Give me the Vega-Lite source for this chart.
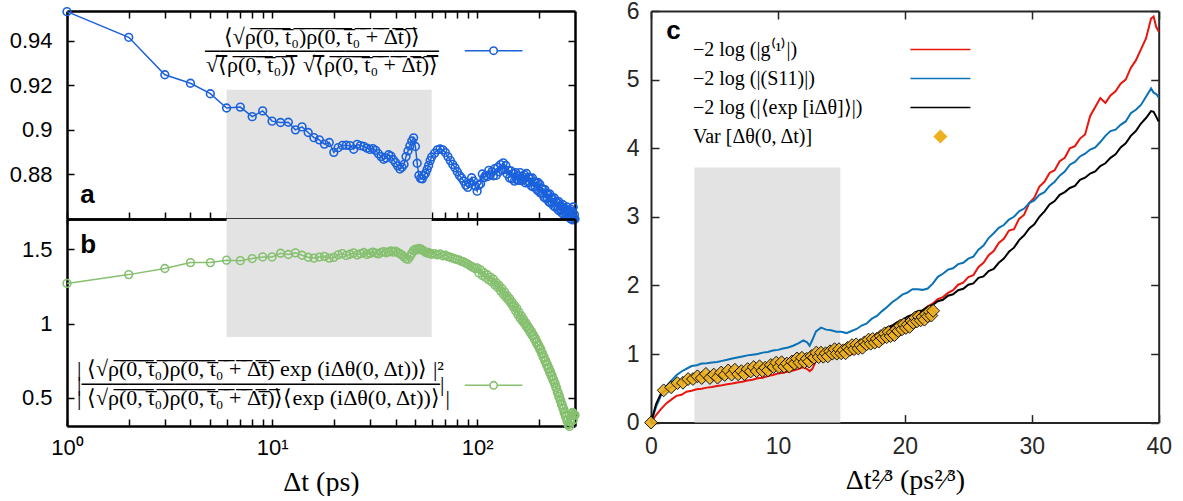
{
"$schema": "https://vega.github.io/schema/vega-lite/v6.json",
"padding": {"left": 9, "top": 0, "right": 5, "bottom": 0},
"background": "white",
"spacing": 43,
"config": {
  "view": {"stroke": null},
  "axis": {"grid": false, "zindex": 1, "labelFont": "Liberation Sans", "labelFontSize": 22, "labelColor": "#000", "domainColor": "#000", "domainWidth": 2.5, "tickColor": "#000", "tickWidth": 1.5, "tickSize": -7, "labelFlush": false, "labelOverlap": false, "titleFont": "Liberation Serif", "titleFontWeight": "normal", "titleFontSize": 28, "titleColor": "#000"}
},
"datasets": {
  "a": [{"t":1,"v":0.953},{"t":2,"v":0.9415},{"t":3,"v":0.9247},{"t":4,"v":0.9209},{"t":5,"v":0.9162},{"t":6,"v":0.9098},{"t":7,"v":0.9102},{"t":8,"v":0.9059},{"t":9,"v":0.9085},{"t":10,"v":0.9039},{"t":11,"v":0.9033},{"t":12,"v":0.9034},{"t":13,"v":0.9},{"t":14,"v":0.9013},{"t":15,"v":0.8988},{"t":16,"v":0.8965},{"t":17,"v":0.8955},{"t":18,"v":0.8936},{"t":19,"v":0.8943},{"t":20,"v":0.8899},{"t":21,"v":0.892},{"t":22,"v":0.893},{"t":23,"v":0.8931},{"t":24,"v":0.8929},{"t":25,"v":0.8913},{"t":26,"v":0.8935},{"t":27,"v":0.8929},{"t":28,"v":0.8926},{"t":29,"v":0.8918},{"t":30,"v":0.8912},{"t":31,"v":0.8916},{"t":32,"v":0.8908},{"t":33,"v":0.8893},{"t":34,"v":0.888},{"t":35,"v":0.8868},{"t":36,"v":0.8874},{"t":37,"v":0.8888},{"t":38,"v":0.8882},{"t":39,"v":0.8866},{"t":40,"v":0.8853},{"t":41,"v":0.8838},{"t":42,"v":0.8824},{"t":43,"v":0.8832},{"t":44,"v":0.8845},{"t":45,"v":0.888},{"t":46,"v":0.8905},{"t":47,"v":0.8928},{"t":48,"v":0.895},{"t":49,"v":0.8964},{"t":50,"v":0.8925},{"t":51,"v":0.885},{"t":52,"v":0.8795},{"t":53,"v":0.8782},{"t":54,"v":0.878},{"t":55,"v":0.8795},{"t":56,"v":0.8805},{"t":57,"v":0.8822},{"t":58,"v":0.884},{"t":59,"v":0.8862},{"t":60,"v":0.8878},{"t":62,"v":0.8895},{"t":64,"v":0.891},{"t":66,"v":0.8914},{"t":68,"v":0.891},{"t":70,"v":0.8898},{"t":72,"v":0.888},{"t":74,"v":0.8862},{"t":76,"v":0.8845},{"t":78,"v":0.883},{"t":80,"v":0.8812},{"t":82,"v":0.8795},{"t":84,"v":0.8784},{"t":86,"v":0.877},{"t":88,"v":0.8752},{"t":90,"v":0.8742},{"t":92,"v":0.876},{"t":94,"v":0.8785},{"t":96,"v":0.877},{"t":98,"v":0.8748},{"t":100,"v":0.8725},{"t":102,"v":0.8752},{"t":104,"v":0.8758},{"t":106,"v":0.8802},{"t":108,"v":0.8785},{"t":110,"v":0.8795},{"t":112,"v":0.879},{"t":114,"v":0.8818},{"t":116,"v":0.8798},{"t":118,"v":0.8812},{"t":120,"v":0.8794},{"t":122,"v":0.8826},{"t":124,"v":0.8796},{"t":126,"v":0.8832},{"t":128,"v":0.8812},{"t":130,"v":0.8844},{"t":132,"v":0.8822},{"t":134,"v":0.8852},{"t":136,"v":0.8822},{"t":138,"v":0.884},{"t":140,"v":0.8802},{"t":142,"v":0.8818},{"t":144,"v":0.8784},{"t":146,"v":0.8816},{"t":148,"v":0.878},{"t":150,"v":0.8804},{"t":152,"v":0.877},{"t":154,"v":0.8808},{"t":156,"v":0.8776},{"t":158,"v":0.8794},{"t":160,"v":0.8774},{"t":162,"v":0.8808},{"t":164,"v":0.8772},{"t":166,"v":0.8792},{"t":168,"v":0.8776},{"t":170,"v":0.8798},{"t":172,"v":0.8762},{"t":174,"v":0.8804},{"t":176,"v":0.8766},{"t":178,"v":0.8786},{"t":180,"v":0.8766},{"t":182,"v":0.8782},{"t":184,"v":0.8748},{"t":186,"v":0.8784},{"t":188,"v":0.8744},{"t":190,"v":0.8766},{"t":192,"v":0.8746},{"t":194,"v":0.8762},{"t":196,"v":0.873},{"t":198,"v":0.8764},{"t":200,"v":0.8724},{"t":202,"v":0.8756},{"t":204,"v":0.8716},{"t":206,"v":0.8738},{"t":208,"v":0.8718},{"t":210,"v":0.8734},{"t":212,"v":0.8698},{"t":214,"v":0.8732},{"t":216,"v":0.8692},{"t":218,"v":0.8714},{"t":220,"v":0.8694},{"t":222,"v":0.871},{"t":224,"v":0.8676},{"t":226,"v":0.8712},{"t":228,"v":0.8672},{"t":230,"v":0.8694},{"t":232,"v":0.8674},{"t":234,"v":0.869},{"t":236,"v":0.8658},{"t":238,"v":0.8694},{"t":240,"v":0.8654},{"t":242,"v":0.8678},{"t":244,"v":0.8658},{"t":246,"v":0.8674},{"t":248,"v":0.8642},{"t":250,"v":0.8678},{"t":252,"v":0.8636},{"t":254,"v":0.866},{"t":256,"v":0.8642},{"t":258,"v":0.8656},{"t":260,"v":0.8626},{"t":262,"v":0.8664},{"t":264,"v":0.8622},{"t":266,"v":0.8646},{"t":268,"v":0.863},{"t":270,"v":0.8642},{"t":272,"v":0.8616},{"t":274,"v":0.8654},{"t":276,"v":0.8612},{"t":278,"v":0.8634},{"t":280,"v":0.8622},{"t":282,"v":0.8632},{"t":284,"v":0.8602},{"t":286,"v":0.8644},{"t":288,"v":0.86},{"t":290,"v":0.8634},{"t":292,"v":0.8596},{"t":294,"v":0.8654},{"t":296,"v":0.8603},{"t":298,"v":0.862},{"t":300,"v":0.86}],
  "b": [{"t":1,"v":1.27},{"t":2,"v":1.329},{"t":3,"v":1.37},{"t":4,"v":1.41},{"t":5,"v":1.41},{"t":6,"v":1.426},{"t":7,"v":1.423},{"t":8,"v":1.437},{"t":9,"v":1.448},{"t":10,"v":1.448},{"t":11,"v":1.473},{"t":12,"v":1.464},{"t":13,"v":1.475},{"t":14,"v":1.459},{"t":15,"v":1.446},{"t":16,"v":1.44},{"t":17,"v":1.447},{"t":18,"v":1.452},{"t":19,"v":1.44},{"t":20,"v":1.445},{"t":21,"v":1.462},{"t":22,"v":1.47},{"t":23,"v":1.458},{"t":24,"v":1.466},{"t":25,"v":1.475},{"t":26,"v":1.462},{"t":27,"v":1.47},{"t":28,"v":1.478},{"t":29,"v":1.465},{"t":30,"v":1.472},{"t":31,"v":1.48},{"t":32,"v":1.474},{"t":33,"v":1.468},{"t":34,"v":1.478},{"t":35,"v":1.484},{"t":36,"v":1.476},{"t":37,"v":1.482},{"t":38,"v":1.488},{"t":39,"v":1.48},{"t":40,"v":1.486},{"t":41,"v":1.478},{"t":42,"v":1.47},{"t":43,"v":1.46},{"t":44,"v":1.448},{"t":45,"v":1.436},{"t":46,"v":1.432},{"t":47,"v":1.45},{"t":48,"v":1.472},{"t":49,"v":1.492},{"t":50,"v":1.5},{"t":51,"v":1.495},{"t":52,"v":1.505},{"t":53,"v":1.502},{"t":54,"v":1.495},{"t":55,"v":1.488},{"t":56,"v":1.48},{"t":57,"v":1.474},{"t":58,"v":1.478},{"t":59,"v":1.47},{"t":60,"v":1.466},{"t":62,"v":1.47},{"t":64,"v":1.462},{"t":66,"v":1.468},{"t":68,"v":1.456},{"t":70,"v":1.46},{"t":72,"v":1.45},{"t":74,"v":1.446},{"t":76,"v":1.44},{"t":78,"v":1.435},{"t":80,"v":1.43},{"t":82,"v":1.426},{"t":84,"v":1.418},{"t":86,"v":1.414},{"t":88,"v":1.406},{"t":90,"v":1.4},{"t":92,"v":1.39},{"t":94,"v":1.384},{"t":96,"v":1.376},{"t":98,"v":1.368},{"t":100,"v":1.374},{"t":102,"v":1.34},{"t":104,"v":1.36},{"t":106,"v":1.324},{"t":108,"v":1.342},{"t":110,"v":1.31},{"t":112,"v":1.328},{"t":114,"v":1.294},{"t":116,"v":1.312},{"t":118,"v":1.28},{"t":120,"v":1.298},{"t":122,"v":1.26},{"t":124,"v":1.274},{"t":126,"v":1.242},{"t":128,"v":1.256},{"t":130,"v":1.22},{"t":132,"v":1.236},{"t":134,"v":1.198},{"t":136,"v":1.212},{"t":138,"v":1.178},{"t":140,"v":1.188},{"t":142,"v":1.158},{"t":144,"v":1.168},{"t":146,"v":1.136},{"t":148,"v":1.144},{"t":150,"v":1.112},{"t":152,"v":1.122},{"t":154,"v":1.086},{"t":156,"v":1.102},{"t":158,"v":1.06},{"t":160,"v":1.076},{"t":162,"v":1.036},{"t":164,"v":1.052},{"t":166,"v":1.018},{"t":168,"v":1.03},{"t":170,"v":1},{"t":172,"v":1.008},{"t":174,"v":0.978},{"t":176,"v":0.987},{"t":178,"v":0.96},{"t":180,"v":0.967},{"t":182,"v":0.936},{"t":184,"v":0.947},{"t":186,"v":0.918},{"t":188,"v":0.924},{"t":190,"v":0.896},{"t":192,"v":0.902},{"t":194,"v":0.872},{"t":196,"v":0.878},{"t":198,"v":0.85},{"t":200,"v":0.854},{"t":202,"v":0.826},{"t":204,"v":0.83},{"t":206,"v":0.8},{"t":208,"v":0.802},{"t":210,"v":0.774},{"t":212,"v":0.774},{"t":214,"v":0.746},{"t":216,"v":0.75},{"t":218,"v":0.722},{"t":220,"v":0.724},{"t":222,"v":0.696},{"t":224,"v":0.7},{"t":226,"v":0.67},{"t":228,"v":0.676},{"t":230,"v":0.646},{"t":232,"v":0.65},{"t":234,"v":0.622},{"t":236,"v":0.624},{"t":238,"v":0.598},{"t":240,"v":0.597},{"t":242,"v":0.568},{"t":244,"v":0.568},{"t":246,"v":0.538},{"t":248,"v":0.538},{"t":250,"v":0.51},{"t":252,"v":0.51},{"t":254,"v":0.482},{"t":256,"v":0.482},{"t":258,"v":0.454},{"t":260,"v":0.454},{"t":262,"v":0.428},{"t":264,"v":0.428},{"t":266,"v":0.398},{"t":268,"v":0.402},{"t":270,"v":0.374},{"t":272,"v":0.374},{"t":274,"v":0.346},{"t":276,"v":0.348},{"t":278,"v":0.318},{"t":280,"v":0.324},{"t":282,"v":0.308},{"t":284,"v":0.342},{"t":286,"v":0.338},{"t":288,"v":0.384},{"t":290,"v":0.398},{"t":292,"v":0.402},{"t":294,"v":0.35},{"t":296,"v":0.392},{"t":298,"v":0.383},{"t":300,"v":0.384}],
  "c": [{"x":0,"g":0,"s":0,"e":0},{"x":0.4,"g":0.11,"s":0.23,"e":0.27},{"x":0.8,"g":0.2,"s":0.4,"e":0.43},{"x":1.2,"g":0.28,"s":0.53,"e":0.47},{"x":1.6,"g":0.335,"s":0.61,"e":0.525},{"x":2,"g":0.39,"s":0.69,"e":0.555},{"x":2.4,"g":0.405,"s":0.745,"e":0.605},{"x":2.8,"g":0.45,"s":0.785,"e":0.625},{"x":3.2,"g":0.465,"s":0.825,"e":0.655},{"x":3.6,"g":0.485,"s":0.835,"e":0.66},{"x":4,"g":0.495,"s":0.86,"e":0.685},{"x":4.4,"g":0.51,"s":0.865,"e":0.685},{"x":4.8,"g":0.52,"s":0.875,"e":0.705},{"x":5.2,"g":0.535,"s":0.885,"e":0.705},{"x":5.6,"g":0.545,"s":0.9,"e":0.725},{"x":6,"g":0.56,"s":0.915,"e":0.725},{"x":6.4,"g":0.57,"s":0.935,"e":0.745},{"x":6.8,"g":0.585,"s":0.95,"e":0.745},{"x":7.2,"g":0.595,"s":0.965,"e":0.765},{"x":7.6,"g":0.615,"s":0.98,"e":0.765},{"x":8,"g":0.625,"s":0.99,"e":0.785},{"x":8.4,"g":0.645,"s":1,"e":0.785},{"x":8.8,"g":0.655,"s":1.02,"e":0.805},{"x":9.2,"g":0.68,"s":1.03,"e":0.815},{"x":9.6,"g":0.695,"s":1.05,"e":0.835},{"x":10,"g":0.715,"s":1.06,"e":0.845},{"x":10.4,"g":0.725,"s":1.08,"e":0.865},{"x":10.8,"g":0.745,"s":1.095,"e":0.87},{"x":11.2,"g":0.76,"s":1.12,"e":0.895},{"x":11.6,"g":0.78,"s":1.155,"e":0.905},{"x":12,"g":0.81,"s":1.2,"e":0.935},{"x":12.3,"g":0.78,"s":1.17,"e":0.945},{"x":12.5,"g":0.75,"s":1.12,"e":0.975},{"x":12.7,"g":0.78,"s":1.2,"e":0.985},{"x":13,"g":0.9,"s":1.33,"e":1.015},{"x":13.4,"g":0.945,"s":1.385,"e":1.025},{"x":13.8,"g":0.965,"s":1.355,"e":1.045},{"x":14.2,"g":0.945,"s":1.345,"e":1.045},{"x":14.6,"g":0.97,"s":1.325,"e":1.065},{"x":15,"g":0.97,"s":1.325,"e":1.065},{"x":15.4,"g":0.995,"s":1.305,"e":1.085},{"x":15.8,"g":0.995,"s":1.335,"e":1.085},{"x":16.2,"g":1.025,"s":1.365,"e":1.115},{"x":16.6,"g":1.045,"s":1.415,"e":1.135},{"x":17,"g":1.105,"s":1.445,"e":1.185},{"x":17.4,"g":1.155,"s":1.515,"e":1.235},{"x":17.8,"g":1.215,"s":1.555,"e":1.295},{"x":18.2,"g":1.265,"s":1.625,"e":1.335},{"x":18.6,"g":1.335,"s":1.685,"e":1.385},{"x":19,"g":1.385,"s":1.755,"e":1.415},{"x":19.4,"g":1.425,"s":1.805,"e":1.465},{"x":19.8,"g":1.445,"s":1.865,"e":1.495},{"x":20.2,"g":1.485,"s":1.895,"e":1.545},{"x":20.6,"g":1.525,"s":1.945,"e":1.575},{"x":21,"g":1.595,"s":1.945,"e":1.625},{"x":21.4,"g":1.635,"s":1.935,"e":1.635},{"x":21.8,"g":1.695,"s":1.955,"e":1.685},{"x":22.2,"g":1.735,"s":2.025,"e":1.715},{"x":22.6,"g":1.8,"s":2.125,"e":1.77},{"x":23,"g":1.83,"s":2.17,"e":1.79},{"x":23.4,"g":1.89,"s":2.23,"e":1.85},{"x":23.8,"g":1.93,"s":2.25,"e":1.87},{"x":24.2,"g":2.01,"s":2.31,"e":1.93},{"x":24.6,"g":2.04,"s":2.33,"e":1.95},{"x":25,"g":2.12,"s":2.39,"e":2.01},{"x":25.4,"g":2.15,"s":2.42,"e":2.03},{"x":25.8,"g":2.27,"s":2.52,"e":2.11},{"x":26.2,"g":2.33,"s":2.58,"e":2.13},{"x":26.6,"g":2.44,"s":2.69,"e":2.21},{"x":27,"g":2.5,"s":2.76,"e":2.24},{"x":27.4,"g":2.62,"s":2.84,"e":2.33},{"x":27.8,"g":2.68,"s":2.88,"e":2.39},{"x":28.2,"g":2.8,"s":2.96,"e":2.49},{"x":28.6,"g":2.82,"s":3,"e":2.55},{"x":29,"g":2.97,"s":3.08,"e":2.66},{"x":29.4,"g":3.03,"s":3.12,"e":2.73},{"x":29.8,"g":3.2,"s":3.2,"e":2.83},{"x":30.2,"g":3.28,"s":3.24,"e":2.89},{"x":30.6,"g":3.44,"s":3.32,"e":3},{"x":31,"g":3.51,"s":3.36,"e":3.08},{"x":31.4,"g":3.64,"s":3.45,"e":3.18},{"x":31.8,"g":3.68,"s":3.51,"e":3.23},{"x":32.2,"g":3.81,"s":3.6,"e":3.32},{"x":32.6,"g":3.86,"s":3.66,"e":3.36},{"x":33,"g":4,"s":3.76,"e":3.42},{"x":33.4,"g":4.03,"s":3.8,"e":3.45},{"x":33.8,"g":4.14,"s":3.88,"e":3.54},{"x":34.2,"g":4.2,"s":3.92,"e":3.57},{"x":34.6,"g":4.47,"s":3.98,"e":3.63},{"x":35,"g":4.6,"s":4.01,"e":3.66},{"x":35.4,"g":4.73,"s":4.09,"e":3.74},{"x":35.8,"g":4.66,"s":4.18,"e":3.78},{"x":36.2,"g":4.77,"s":4.25,"e":3.86},{"x":36.6,"g":4.83,"s":4.27,"e":3.91},{"x":37,"g":4.94,"s":4.34,"e":4.01},{"x":37.4,"g":5,"s":4.39,"e":4.07},{"x":37.8,"g":5.17,"s":4.51,"e":4.18},{"x":38.2,"g":5.28,"s":4.56,"e":4.25},{"x":38.6,"g":5.44,"s":4.63,"e":4.36},{"x":39,"g":5.6,"s":4.75,"e":4.44},{"x":39.4,"g":5.89,"s":4.87,"e":4.54},{"x":39.6,"g":5.92,"s":4.81,"e":4.53},{"x":39.8,"g":5.77,"s":4.79,"e":4.46},{"x":40,"g":5.7,"s":4.74,"e":4.39}],
  "d": [{"x":0,"v":0},{"x":1,"v":0.47},{"x":1.587,"v":0.515},{"x":2.08,"v":0.575},{"x":2.52,"v":0.58},{"x":2.924,"v":0.635},{"x":3.302,"v":0.635},{"x":3.659,"v":0.675},{"x":4,"v":0.65},{"x":4.327,"v":0.71},{"x":4.642,"v":0.65},{"x":4.946,"v":0.7},{"x":5.241,"v":0.655},{"x":5.529,"v":0.73},{"x":5.809,"v":0.695},{"x":6.082,"v":0.76},{"x":6.35,"v":0.7},{"x":6.611,"v":0.77},{"x":6.868,"v":0.705},{"x":7.12,"v":0.75},{"x":7.368,"v":0.705},{"x":7.612,"v":0.78},{"x":7.851,"v":0.745},{"x":8.088,"v":0.81},{"x":8.32,"v":0.75},{"x":8.55,"v":0.82},{"x":8.776,"v":0.755},{"x":9,"v":0.8},{"x":9.221,"v":0.76},{"x":9.439,"v":0.84},{"x":9.655,"v":0.81},{"x":9.868,"v":0.875},{"x":10.079,"v":0.81},{"x":10.288,"v":0.88},{"x":10.495,"v":0.815},{"x":10.7,"v":0.86},{"x":10.903,"v":0.815},{"x":11.104,"v":0.89},{"x":11.303,"v":0.86},{"x":11.5,"v":0.935},{"x":11.696,"v":0.875},{"x":11.89,"v":0.945},{"x":12.082,"v":0.88},{"x":12.273,"v":0.93},{"x":12.462,"v":0.89},{"x":12.651,"v":0.97},{"x":12.837,"v":0.945},{"x":13.022,"v":1.02},{"x":13.208,"v":0.955},{"x":13.39,"v":1.02},{"x":13.572,"v":0.96},{"x":13.752,"v":1.01},{"x":13.932,"v":0.965},{"x":14.11,"v":1.04},{"x":14.287,"v":1.005},{"x":14.463,"v":1.07},{"x":14.638,"v":1.005},{"x":14.812,"v":1.07},{"x":14.985,"v":1.01},{"x":15.157,"v":1.055},{"x":15.326,"v":1.01},{"x":15.497,"v":1.09},{"x":15.667,"v":1.06},{"x":15.834,"v":1.13},{"x":16,"v":1.07},{"x":16.166,"v":1.14},{"x":16.331,"v":1.08},{"x":16.495,"v":1.13},{"x":16.658,"v":1.09},{"x":16.82,"v":1.17},{"x":16.985,"v":1.14},{"x":17.144,"v":1.21},{"x":17.307,"v":1.15},{"x":17.466,"v":1.22},{"x":17.626,"v":1.165},{"x":17.784,"v":1.22},{"x":17.941,"v":1.18},{"x":18.098,"v":1.26},{"x":18.254,"v":1.23},{"x":18.409,"v":1.3},{"x":18.566,"v":1.245},{"x":18.72,"v":1.32},{"x":18.872,"v":1.26},{"x":19.025,"v":1.31},{"x":19.177,"v":1.275},{"x":19.328,"v":1.36},{"x":19.479,"v":1.335},{"x":19.629,"v":1.41},{"x":19.778,"v":1.36},{"x":19.926,"v":1.435},{"x":20.083,"v":1.38},{"x":20.225,"v":1.43},{"x":20.371,"v":1.395},{"x":20.517,"v":1.48},{"x":20.663,"v":1.455},{"x":20.808,"v":1.53},{"x":20.952,"v":1.475},{"x":21.096,"v":1.55},{"x":21.24,"v":1.49},{"x":21.383,"v":1.54},{"x":21.544,"v":1.5},{"x":21.666,"v":1.58},{"x":21.808,"v":1.55},{"x":21.948,"v":1.62},{"x":22.087,"v":1.56},{"x":22.226,"v":1.63}]
},
"resolve": {"scale": {"color": "independent"}, "legend": {"color": "independent"}},
"hconcat": [
  {
    "vconcat": [
      {
        "width": 508, "height": 208,
        "resolve": {"axis": {"x": "independent", "y": "independent"}},
        "layer": [
          {
            "data": {"values": [{"x0": 6, "x1": 60, "y0": 0.86, "y1": 0.918}]},
            "mark": {"type": "rect", "color": "#e3e3e3"},
            "encoding": {
              "x": {"field": "x0", "type": "quantitative", "scale": {"type": "log", "domain": [1, 300], "nice": false}, "axis": {"orient": "top", "labels": false, "title": null, "values": [1,2,3,4,5,6,7,8,9,10,20,30,40,50,60,70,80,90,100,200]}},
              "x2": {"field": "x1"},
              "y": {"field": "y0", "type": "quantitative", "scale": {"domain": [0.86, 0.9533], "nice": false, "zero": false}, "axis": {"orient": "right", "labels": false, "title": null, "values": [0.88, 0.9, 0.92, 0.94]}},
              "y2": {"field": "y1"}
            }
          },
          {
            "data": {"name": "a"},
            "mark": {"type": "line", "strokeWidth": 1.5, "clip": false, "point": {"filled": false, "size": 60, "strokeWidth": 1.6}},
            "encoding": {
              "x": {"field": "t", "type": "quantitative", "axis": {"orient": "bottom", "labels": false, "title": null, "values": [1,2,3,4,5,6,7,8,9,10,20,30,40,50,60,70,80,90,100,200]}},
              "y": {"field": "v", "type": "quantitative", "axis": {"orient": "left", "title": null, "values": [0.88, 0.9, 0.92, 0.94], "format": "~g", "labelPadding": 22}},
              "color": {"datum": "a", "scale": {"range": ["#1b62dc"]}, "legend": {
                "orient": "none", "legendX": 415.6, "legendY": 28.7, "title": null, "padding": 0,
                "labelFont": "Liberation Serif", "labelFontSize": 22, "labelLimit": 0, "labelColor": "#000", "labelOffset": -182.6, "symbolOffset": 0,
                "labelExpr": "['⟨√ρ\u0305(\u03050\u0305,\u0305 \u0305t\u0305₀\u0305)\u0305ρ\u0305(\u03050\u0305,\u0305 \u0305t\u0305₀\u0305 \u0305+\u0305 \u0305Δ\u0305t\u0305)\u0305⟩', '───────────────', '√⟨\u0305ρ\u0305(\u03050\u0305,\u0305 \u0305t\u0305₀\u0305)\u0305⟩\u0305 √⟨\u0305ρ\u0305(\u03050\u0305,\u0305 \u0305t\u0305₀\u0305 \u0305+\u0305 \u0305Δ\u0305t\u0305)\u0305⟩\u0305']",
                "encode": {
                  "symbols": {"update": {"shape": {"value": "M-5,0H-0.64M0.64,0H5M0.64,0A0.64,0.64,0,1,0,-0.64,0A0.64,0.64,0,1,0,0.64,0"}, "size": {"value": 133}, "stroke": {"value": "#1b62dc"}, "fill": {"value": "transparent"}, "strokeWidth": {"value": 1.6}, "opacity": {"value": 1}}},
                  "labels": {"update": {"lineHeight": {"value": 14}, "dy": {"value": -14}, "align": {"value": "center"}}}
                }
              }}
            }
          },
          {
            "data": {"values": [{}]},
            "mark": {"type": "text", "text": "a", "font": "Liberation Sans", "fontWeight": "bold", "fontSize": 26, "align": "left", "baseline": "alphabetic"},
            "encoding": {
              "x": {"datum": 1.161, "type": "quantitative", "axis": null},
              "y": {"datum": 0.8674, "type": "quantitative", "axis": null}
            }
          }
        ]
      },
      {
        "width": 508, "height": 207,
        "resolve": {"axis": {"x": "independent", "y": "independent"}},
        "layer": [
          {
            "data": {"values": [{"x0": 6, "x1": 60, "y0": 0.91, "y1": 1.703}]},
            "mark": {"type": "rect", "color": "#e3e3e3"},
            "encoding": {
              "x": {"field": "x0", "type": "quantitative", "scale": {"type": "log", "domain": [1, 300], "nice": false}, "axis": {"orient": "top", "labels": false, "title": null, "values": [1, 10, 100], "tickSize": -6}},
              "x2": {"field": "x1"},
              "y": {"field": "y0", "type": "quantitative", "scale": {"domain": [0.311, 1.703], "nice": false, "zero": false}, "axis": {"orient": "right", "labels": false, "title": null, "values": [0.5, 1, 1.5]}},
              "y2": {"field": "y1"}
            }
          },
          {
            "data": {"name": "b"},
            "mark": {"type": "line", "strokeWidth": 1.5, "clip": false, "point": {"filled": false, "size": 60, "strokeWidth": 1.6}},
            "encoding": {
              "x": {"field": "t", "type": "quantitative", "axis": {"orient": "bottom", "title": "Δt (ps)", "titlePadding": 10, "values": [1,2,3,4,5,6,7,8,9,10,20,30,40,50,60,70,80,90,100,200], "labelExpr": "datum.value === 1 ? '10⁰' : datum.value === 10 ? '10¹' : datum.value === 100 ? '10²' : ''", "labelPadding": 18}},
              "y": {"field": "v", "type": "quantitative", "axis": {"orient": "left", "title": null, "values": [0.5, 1, 1.5], "format": "~g", "labelPadding": 22}},
              "color": {"datum": "b", "scale": {"range": ["#86c070"]}, "legend": {
                "orient": "none", "legendX": 415.6, "legendY": 155.3, "title": null, "padding": 0,
                "labelFont": "Liberation Serif", "labelFontSize": 22, "labelLimit": 0, "labelColor": "#000", "labelOffset": -427.6, "symbolOffset": 0,
                "labelExpr": "['| ⟨√ρ\u0305(\u03050\u0305,\u0305 \u0305t\u0305₀\u0305)\u0305ρ\u0305(\u03050\u0305,\u0305 \u0305t\u0305₀\u0305 \u0305+\u0305 \u0305Δ\u0305t\u0305)\u0305 exp (iΔθ(0, Δt))⟩  |²', '|───────────────────────|', '| ⟨√ρ\u0305(\u03050\u0305,\u0305 \u0305t\u0305₀\u0305)\u0305ρ\u0305(\u03050\u0305,\u0305 \u0305t\u0305₀\u0305 \u0305+\u0305 \u0305Δ\u0305t\u0305)\u0305⟩⟨exp (iΔθ(0, Δt))⟩ |']",
                "encode": {
                  "symbols": {"update": {"shape": {"value": "M-5,0H-0.64M0.64,0H5M0.64,0A0.64,0.64,0,1,0,-0.64,0A0.64,0.64,0,1,0,0.64,0"}, "size": {"value": 133}, "stroke": {"value": "#86c070"}, "fill": {"value": "transparent"}, "strokeWidth": {"value": 1.6}, "opacity": {"value": 1}}},
                  "labels": {"update": {"lineHeight": {"value": 14.5}, "dy": {"value": -16}, "align": {"value": "left"}}}
                }
              }}
            }
          },
          {
            "data": {"values": [{}]},
            "mark": {"type": "text", "text": "b", "font": "Liberation Sans", "fontWeight": "bold", "fontSize": 26, "align": "left", "baseline": "alphabetic"},
            "encoding": {
              "x": {"datum": 1.161, "type": "quantitative", "axis": null},
              "y": {"datum": 1.473, "type": "quantitative", "axis": null}
            }
          }
        ]
      }
    ],
    "spacing": 0,
    "bounds": "flush",
    "resolve": {"scale": {"color": "independent"}, "legend": {"color": "independent"}}
  },
  {
    "width": 507.7, "height": 411.6,
    "resolve": {"axis": {"x": "independent", "y": "independent"}},
    "layer": [
      {
        "data": {"values": [{"x0": 3.42, "x1": 14.92, "y0": 0, "y1": 3.72}]},
        "mark": {"type": "rect", "color": "#e3e3e3"},
        "encoding": {
          "x": {"field": "x0", "type": "quantitative", "scale": {"domain": [0, 40], "nice": false}, "axis": {"orient": "top", "labels": false, "title": null, "values": [0, 10, 20, 30, 40], "domainColor": "#262626", "tickColor": "#262626", "domainWidth": 2, "tickSize": -8}},
          "x2": {"field": "x1"},
          "y": {"field": "y0", "type": "quantitative", "scale": {"domain": [0, 6], "nice": false}, "axis": {"orient": "right", "labels": false, "title": null, "values": [0, 1, 2, 3, 4, 5, 6], "domainColor": "#262626", "tickColor": "#262626", "domainWidth": 2, "tickSize": -8}},
          "y2": {"field": "y1"}
        }
      },
      {
        "data": {"name": "c"},
        "transform": [{"fold": ["g", "s", "e"], "as": ["series", "v"]}],
        "mark": {"type": "line", "strokeWidth": 2},
        "encoding": {
          "x": {"field": "x", "type": "quantitative", "axis": {"orient": "bottom", "title": "Δt²⁄³ (ps²⁄³)", "titlePadding": 8, "values": [0, 10, 20, 30, 40], "domainColor": "#262626", "tickColor": "#262626", "labelColor": "#262626", "domainWidth": 2, "tickSize": -8, "labelFontSize": 23, "labelPadding": 21}},
          "y": {"field": "v", "type": "quantitative", "axis": {"orient": "left", "title": null, "values": [0, 1, 2, 3, 4, 5, 6], "domainColor": "#262626", "tickColor": "#262626", "labelColor": "#262626", "domainWidth": 2, "tickSize": -8, "labelFontSize": 23, "labelPadding": 20}},
          "color": {"field": "series", "type": "nominal", "scale": {"domain": ["g", "s", "e", "var"], "range": ["#e8160c", "#0a72b5", "#000000", "#edb120"]}, "legend": {
            "orient": "none", "legendX": 279.4, "legendY": 28.5, "title": null, "padding": 0, "rowPadding": 9,
            "labelFont": "Liberation Serif", "labelFontSize": 20, "labelLimit": 0, "labelColor": "#000", "labelOffset": -257.4, "symbolOffset": 0,
            "labelExpr": "datum.value === 'g' ? '−2 log (|g⁽¹⁾|)' : datum.value === 's' ? '−2 log (|(S11)|)' : datum.value === 'e' ? '−2 log (|⟨exp [iΔθ]⟩|)' : 'Var [Δθ(0, Δt)]'",
            "encode": {
              "symbols": {"update": {
                "shape": {"signal": "datum.value === 'var' ? 'diamond' : 'M-5,0H5'"},
                "size": {"value": 144},
                "fill": {"signal": "datum.value === 'var' ? '#edb120' : 'transparent'"},
                "stroke": {"signal": "datum.value === 'g' ? '#e8160c' : datum.value === 's' ? '#0a72b5' : '#000000'"},
                "strokeWidth": {"value": 1.5},
                "opacity": {"value": 1}
              }}
            }
          }}
        }
      },
      {
        "data": {"name": "d"},
        "mark": {"type": "point", "shape": "diamond", "filled": true, "size": 165, "stroke": "#000000", "strokeWidth": 1, "opacity": 0.9},
        "encoding": {
          "x": {"field": "x", "type": "quantitative", "axis": null},
          "y": {"field": "v", "type": "quantitative", "axis": null},
          "color": {"datum": "var", "legend": null}
        }
      },
      {
        "data": {"values": [{}]},
        "mark": {"type": "text", "text": "c", "font": "Liberation Sans", "fontWeight": "bold", "fontSize": 26, "align": "left", "baseline": "alphabetic"},
        "encoding": {
          "x": {"datum": 1.2, "type": "quantitative", "axis": null},
          "y": {"datum": 5.59, "type": "quantitative", "axis": null}
        }
      }
    ]
  }
]
}
